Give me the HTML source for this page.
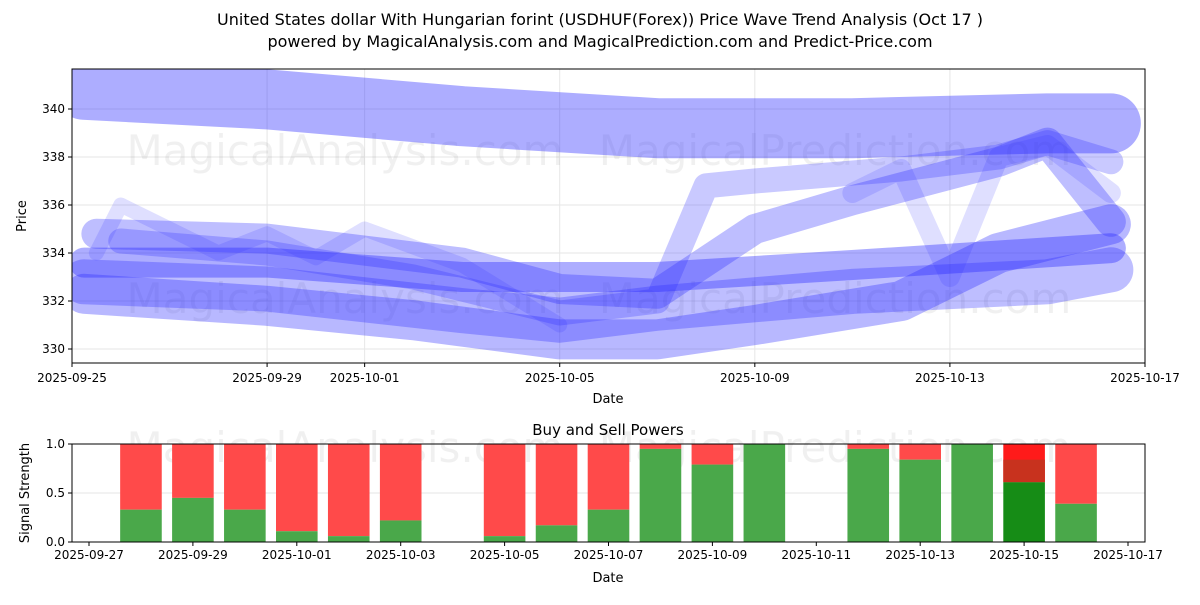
<!DOCTYPE html>
<html><head><meta charset="utf-8"><style>
body{margin:0;background:#fff;font-family:"Liberation Sans","DejaVu Sans",sans-serif}
</style></head><body>
<svg width="1200" height="600" xmlns="http://www.w3.org/2000/svg" font-family="DejaVu Sans, Liberation Sans, sans-serif">
<text x="600" y="25" text-anchor="middle" font-size="16">United States dollar With Hungarian forint (USDHUF(Forex)) Price Wave Trend Analysis (Oct 17 )</text>
<text x="600" y="47" text-anchor="middle" font-size="16">powered by MagicalAnalysis.com and MagicalPrediction.com and Predict-Price.com</text>
<g id="top"></g>
<g id="bot"></g>
</svg>
<script>
const waveDaysA=[0.25,4,8,12,16,20,21.3];
const wavePricesA=[340.8,340.4,339.7,339.2,339.2,339.4,339.4];
const waveDaysB=[0.25,4,7,10,12,14,17,19,21.3];
const wavePricesB=[332.3,331.8,331.2,330.4,330.4,331,332,334,335.2];
const waveDaysC=[0.25,4,8,12,16,21.3];
const wavePricesC=[333.6,333.6,333,333,333.5,334.2];
const waveDaysD=[0.25,4,8,10,12,16,20,21.3];
const wavePricesD=[332.8,332.5,331.6,331.2,331.7,332.4,332.8,333.3];
const waveDaysE=[0.5,4,8,10,12,14,16,19,20,21.3];
const wavePricesE=[334.8,334.6,333.6,332.5,332.3,335,336.2,337.8,338.6,335.3];
const waveDaysF=[1,4,7,10,12,13,14,17,19,20,21.3];
const wavePricesF=[334.5,334,333,331.5,332,336.8,337,337.5,338,338.6,337.8];
const waveDaysG=[16,17,18,19,20,21.3];
const wavePricesG=[336.5,337.5,333,338,338.5,336.5];
const waveDaysH=[0.5,1,3,4,5,6,8,10];
const wavePricesH=[334,336,334,334.8,333.8,335,333.5,331];
const priceTicks=[330,332,334,336,338,340];
const dateTicksTop=["2025-09-25","2025-09-29","2025-10-01","2025-10-05","2025-10-09","2025-10-13","2025-10-17"];
const dateTickDaysTop=[0,4,6,10,14,18,22];
const powerDays=[1,2,3,4,5,6,8,9,10,11,12,13,15,16,17,18,19];
const buyPower=[0.33,0.45,0.33,0.11,0.06,0.22,0.06,0.17,0.33,0.95,0.79,1.0,0.95,0.84,1.0,0.61,0.39];
const dateTicksBot=["2025-09-27","2025-09-29","2025-10-01","2025-10-03","2025-10-05","2025-10-07","2025-10-09","2025-10-11","2025-10-13","2025-10-15","2025-10-17"];
const dateTickDaysBot=[0,2,4,6,8,10,12,14,16,18,20];
const strengthTicks=[0,0.5,1.0];

(function(){
const NS="http://www.w3.org/2000/svg";
const T={x0:72,x1:1145,y0:69,y1:363};
const xT=d=>T.x0+d*(T.x1-T.x0)/22;
const yT=p=>349-(p-330)*24;
const B={x0:72,x1:1145,y0:444,y1:542};
const xB=d=>89+d*51.95;
const yB=v=>B.y1-v*(B.y1-B.y0);

function mk(parent,tag,attrs){const e=document.createElementNS(NS,tag);for(const k in attrs)e.setAttribute(k,attrs[k]);parent.appendChild(e);return e;}
const topG=document.getElementById('top'), botG=document.getElementById('bot');

priceTicks.forEach(p=>{const l=mk(topG,'line',{x1:T.x0,x2:T.x1,y1:yT(p),y2:yT(p),stroke:'#e6e6e6'});

});
dateTickDaysTop.forEach(d=>{const l=mk(topG,'line',{x1:xT(d),x2:xT(d),y1:T.y0,y2:T.y1,stroke:'#e6e6e6'});

});
[[345,165],[835,165],[345,313],[835,313]].forEach((w,i)=>{const t=mk(topG,'text',{x:w[0],y:w[1],'text-anchor':'middle','font-size':42,fill:'#000','fill-opacity':0.06});t.textContent=i%2?'MagicalPrediction.com':'MagicalAnalysis.com';

});
const clip=mk(topG,'clipPath',{id:'cp'});mk(clip,'rect',{x:T.x0,y:T.y0,width:T.x1-T.x0,height:T.y1-T.y0});
const wg=mk(topG,'g',{'clip-path':'url(#cp)'});
function wave(days,prices,w,op,name){const pts=days.map((d,i)=>xT(d)+','+yT(prices[i])).join(' ');
const p=mk(wg,'polyline',{points:pts,fill:'none',stroke:'rgb(40,40,255)','stroke-opacity':op,'stroke-width':w,'stroke-linejoin':'round','stroke-linecap':'round'});

}
wave(waveDaysA,wavePricesA,60,0.38,'wave-top-band');
wave(waveDaysB,wavePricesB,40,0.33,'wave-lower-band');
wave(waveDaysC,wavePricesC,30,0.38,'wave-flat-band');
wave(waveDaysD,wavePricesD,45,0.3,'wave-dip-band');
wave(waveDaysE,wavePricesE,30,0.3,'wave-rising-band');
wave(waveDaysF,wavePricesF,25,0.25,'wave-rising-band-2');
wave(waveDaysG,wavePricesG,20,0.15,'wave-v-band');
wave(waveDaysH,wavePricesH,15,0.15,'wave-jagged-band');
mk(topG,'rect',{x:T.x0,y:T.y0,width:T.x1-T.x0,height:T.y1-T.y0,fill:'none',stroke:'#000'});
priceTicks.forEach(p=>{mk(topG,'line',{x1:T.x0-4,x2:T.x0,y1:yT(p),y2:yT(p),stroke:'#000'});
const t=mk(topG,'text',{x:T.x0-7,y:yT(p)+4,'text-anchor':'end','font-size':12});t.textContent=p;

});
dateTickDaysTop.forEach((d,i)=>{mk(topG,'line',{x1:xT(d),x2:xT(d),y1:T.y1,y2:T.y1+4,stroke:'#000'});
const t=mk(topG,'text',{x:xT(d),y:T.y1+19,'text-anchor':'middle','font-size':12});t.textContent=dateTicksTop[i];

});
let t=mk(topG,'text',{x:608,y:403,'text-anchor':'middle','font-size':13});t.textContent='Date';


t=mk(topG,'text',{x:26,y:216,'text-anchor':'middle','font-size':13,transform:'rotate(-90 26 216)'});t.textContent='Price';



t=mk(botG,'text',{x:608,y:435,'text-anchor':'middle','font-size':15});t.textContent='Buy and Sell Powers';


strengthTicks.forEach(v=>{const l=mk(botG,'line',{x1:B.x0,x2:B.x1,y1:yB(v),y2:yB(v),stroke:'#e6e6e6'});

});
[[345,462],[835,462]].forEach((w,i)=>{const t=mk(botG,'text',{x:w[0],y:w[1],'text-anchor':'middle','font-size':42,fill:'#000','fill-opacity':0.06});t.textContent=i?'MagicalPrediction.com':'MagicalAnalysis.com';

});
powerDays.forEach((d,i)=>{const x=xB(d)-20.8,w=41.6,v=buyPower[i];const hi=(d===18);
const r=mk(botG,'rect',{x:x,y:B.y0,width:w,height:yB(v)-B.y0,fill:hi?'#ff1a1a':'#ff4a4a'});


if(hi){const r2=mk(botG,'rect',{x:x,y:yB(0.84),width:w,height:yB(v)-yB(0.84),fill:'#c8321e'});

}
const g=mk(botG,'rect',{x:x,y:yB(v),width:w,height:B.y1-yB(v),fill:hi?'#168c16':'#4aa84a'});

});
mk(botG,'rect',{x:B.x0,y:B.y0,width:B.x1-B.x0,height:B.y1-B.y0,fill:'none',stroke:'#000'});
strengthTicks.forEach(v=>{mk(botG,'line',{x1:B.x0-4,x2:B.x0,y1:yB(v),y2:yB(v),stroke:'#000'});
const t=mk(botG,'text',{x:B.x0-7,y:yB(v)+4,'text-anchor':'end','font-size':12});t.textContent=v.toFixed(1);

});
dateTickDaysBot.forEach((d,i)=>{mk(botG,'line',{x1:xB(d),x2:xB(d),y1:B.y1,y2:B.y1+4,stroke:'#000'});
const t=mk(botG,'text',{x:xB(d),y:B.y1+17,'text-anchor':'middle','font-size':12});t.textContent=dateTicksBot[i];

});
t=mk(botG,'text',{x:608,y:582,'text-anchor':'middle','font-size':13});t.textContent='Date';


t=mk(botG,'text',{x:29,y:493,'text-anchor':'middle','font-size':13,transform:'rotate(-90 29 493)'});t.textContent='Signal Strength';


})();
</script>
</body></html>
